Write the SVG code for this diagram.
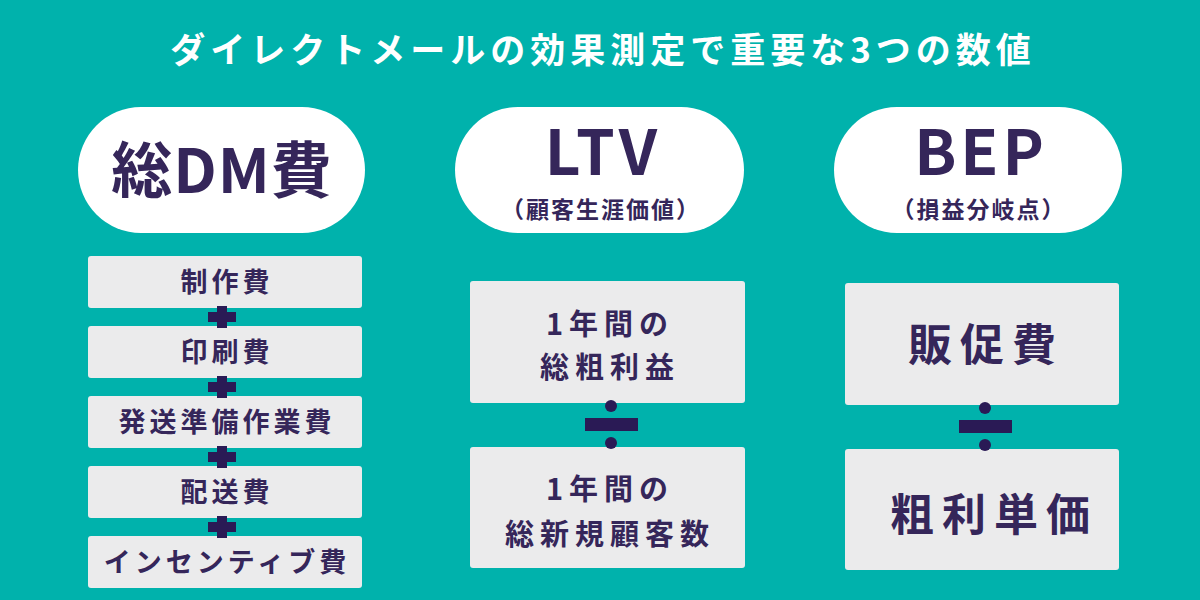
<svg xmlns="http://www.w3.org/2000/svg" width="1200" height="600" viewBox="0 0 1200 600">
<style>
text{font-family:"Noto Sans CJK JP","Noto Sans",sans-serif;font-weight:bold;fill:#35265a;text-anchor:middle}
.pill{fill:#fff}
.box{fill:#ebebec}
.op{fill:#2a1a55}
.s{font-size:27px;letter-spacing:4px}
.m{font-size:29px;letter-spacing:6px}
.l{font-size:44px;letter-spacing:8px}
.sub{font-size:23px;letter-spacing:2px}
</style>
<rect width="1200" height="600" fill="#00b2ac"/>
<text x="603" y="63" font-size="35" letter-spacing="5" style="fill:#fff">ダイレクトメールの効果測定で重要な3つの数値</text>
<g id="total">
<rect class="pill" x="78" y="107" width="287" height="126" rx="63"/>
<text x="222" y="193" font-size="61" letter-spacing="1">総DM費</text>
</g>
<g id="items">
<rect class="box" x="88" y="256" width="274" height="52" rx="3"/><text class="s" x="227" y="292">制作費</text>
<rect class="box" x="88" y="326" width="274" height="52" rx="3"/><text class="s" x="227" y="362">印刷費</text>
<rect class="box" x="88" y="396" width="274" height="52" rx="3"/><text class="s" x="227" y="432">発送準備作業費</text>
<rect class="box" x="88" y="466" width="274" height="52" rx="3"/><text class="s" x="227" y="502">配送費</text>
<rect class="box" x="88" y="536" width="274" height="52" rx="3"/><text class="s" x="227" y="572">インセンティブ費</text>
</g>
<g id="ltv">
<rect class="pill" x="455" y="107" width="289" height="126" rx="63"/>
<text x="603" y="175" font-size="62" letter-spacing="4">LTV</text>
<text class="sub" x="601" y="218">（顧客生涯価値）</text>
<rect class="box" x="470" y="281" width="275" height="122" rx="3"/>
<text class="m" x="610" y="335">1年間の</text>
<text class="m" x="610" y="378">総粗利益</text>
<rect class="box" x="470" y="447" width="275" height="121" rx="3"/>
<text class="m" x="610" y="500">1年間の</text>
<text class="m" x="610" y="545">総新規顧客数</text>
</g>
<g id="bep">
<rect class="pill" x="834" y="107" width="288" height="126" rx="63"/>
<text x="981" y="175" font-size="62" letter-spacing="4">BEP</text>
<text class="sub" x="979" y="218">（損益分岐点）</text>
<rect class="box" x="845" y="283" width="274" height="122" rx="3"/>
<text class="l" x="986" y="361">販促費</text>
<rect class="box" x="845" y="449" width="274" height="121" rx="3"/>
<text class="l" x="994" y="531">粗利単価</text>
</g>
<g id="connectors">
<g class="op">
<rect x="208" y="312" width="28" height="10"/><rect x="217" y="306" width="10" height="22"/>
<rect x="208" y="382" width="28" height="10"/><rect x="217" y="376" width="10" height="22"/>
<rect x="208" y="452" width="28" height="10"/><rect x="217" y="446" width="10" height="22"/>
<rect x="208" y="522" width="28" height="10"/><rect x="217" y="516" width="10" height="22"/>
<rect x="585" y="418" width="53" height="13"/><circle cx="611" cy="406" r="6"/><circle cx="611" cy="443" r="6"/>
<rect x="959" y="420" width="53" height="13"/><circle cx="985" cy="408" r="6"/><circle cx="985" cy="445" r="6"/>
</g>
</g>
</svg>
